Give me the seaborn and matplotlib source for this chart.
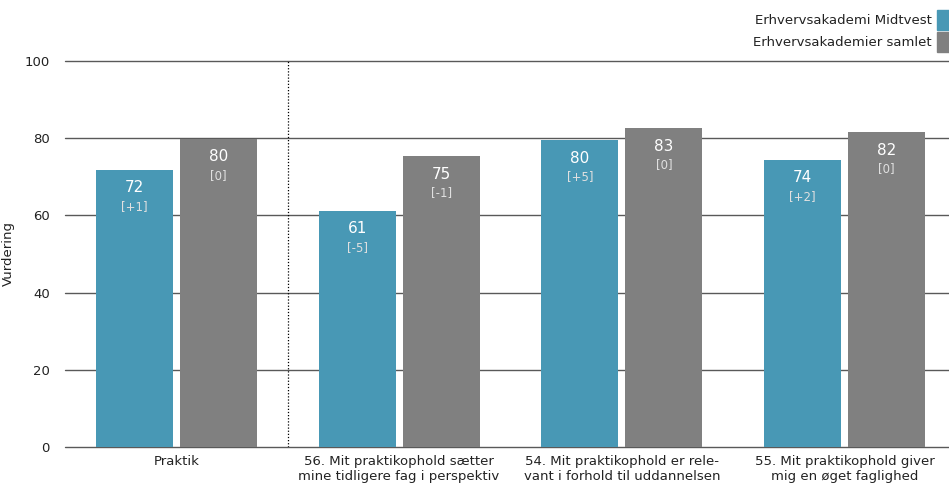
import pandas as pd
import matplotlib.pyplot as plt
import seaborn as sns
from matplotlib.patches import Rectangle

# Data
categories = [
    'Praktik',
    '56. Mit praktikophold sætter\nmine tidligere fag i perspektiv',
    '54. Mit praktikophold er rele-\nvant i forhold til uddannelsen',
    '55. Mit praktikophold giver\nmig en øget faglighed',
]
series = ['Erhvervsakademi Midtvest', 'Erhvervsakademier samlet']
midtvest = [71.8, 61.2, 79.5, 74.4]
samlet = [79.9, 75.4, 82.6, 81.6]
midtvest_change = ['[+1]', '[-5]', '[+5]', '[+2]']
samlet_change = ['[0]', '[-1]', '[0]', '[0]']
colors = ['#4898b5', '#808080']

df = pd.DataFrame({
    'Kategori': categories * 2,
    'Gruppe': [series[0]] * 4 + [series[1]] * 4,
    'Vurdering': midtvest + samlet,
})

sns.set_style('white')
plt.rcParams['font.family'] = ['DejaVu Sans']
plt.rcParams['font.size'] = 9.5

fig = plt.figure(figsize=(9.49, 4.87), dpi=100)
W, H = 949, 487
ax = fig.add_axes([65 / W, (H - 447) / H, 891 / W, 386 / H])

sns.barplot(data=df, x='Kategori', y='Vurdering', hue='Gruppe',
            hue_order=series, palette=colors, width=0.754, gap=0.083,
            saturation=1, legend=False, linewidth=0, ax=ax)

ax.set_xlim(-0.5, 3.5)
ax.set_ylim(0, 100)
ax.set_yticks([0, 20, 40, 60, 80, 100])
ax.yaxis.grid(True, color='#595959', linewidth=1)
ax.set_axisbelow(True)
for gl in ax.get_ygridlines():
    gl.set_clip_on(False)
for s in ax.spines.values():
    s.set_visible(False)
ax.tick_params(axis='both', length=0, labelsize=9.5, colors='#222222')
ax.tick_params(axis='y', pad=11)
ax.tick_params(axis='x', pad=6)
ax.set_xlabel('')
ax.set_ylabel('Vurdering', fontsize=9.5, color='#222222')
ax.yaxis.set_label_coords(-50 / 891, 0.5)

# divider between overall score and single questions
ax.axvline(0.5, ymin=0, ymax=1, color='black', linestyle=(0, (1, 1.5)), linewidth=0.9)

# value labels inside bars
changes = [midtvest_change, samlet_change]
for container, chg in zip(ax.containers, changes):
    for bar, c in zip(container, chg):
        x = bar.get_x() + bar.get_width() / 2
        h = bar.get_height()
        ax.annotate(f'{h:.0f}', (x, h), xytext=(0, -13), textcoords='offset points',
                    ha='center', va='center', color='white', fontsize=11)
        ax.annotate(c, (x, h), xytext=(0, -26.5), textcoords='offset points',
                    ha='center', va='center', color='#e0e0e0', fontsize=8.5)

# legend in the top right corner
rows = [20, 42]
for name, col, yc in zip(series, colors, rows):
    fig.text(932 / W, 1 - yc / H, name, ha='right', va='center', fontsize=9.5, color='#222222')
    fig.add_artist(Rectangle((937 / W, 1 - (yc + 10) / H), 14 / W, 20 / H,
                             transform=fig.transFigure, color=col, clip_on=False))

fig.savefig('out.png', dpi=100)
